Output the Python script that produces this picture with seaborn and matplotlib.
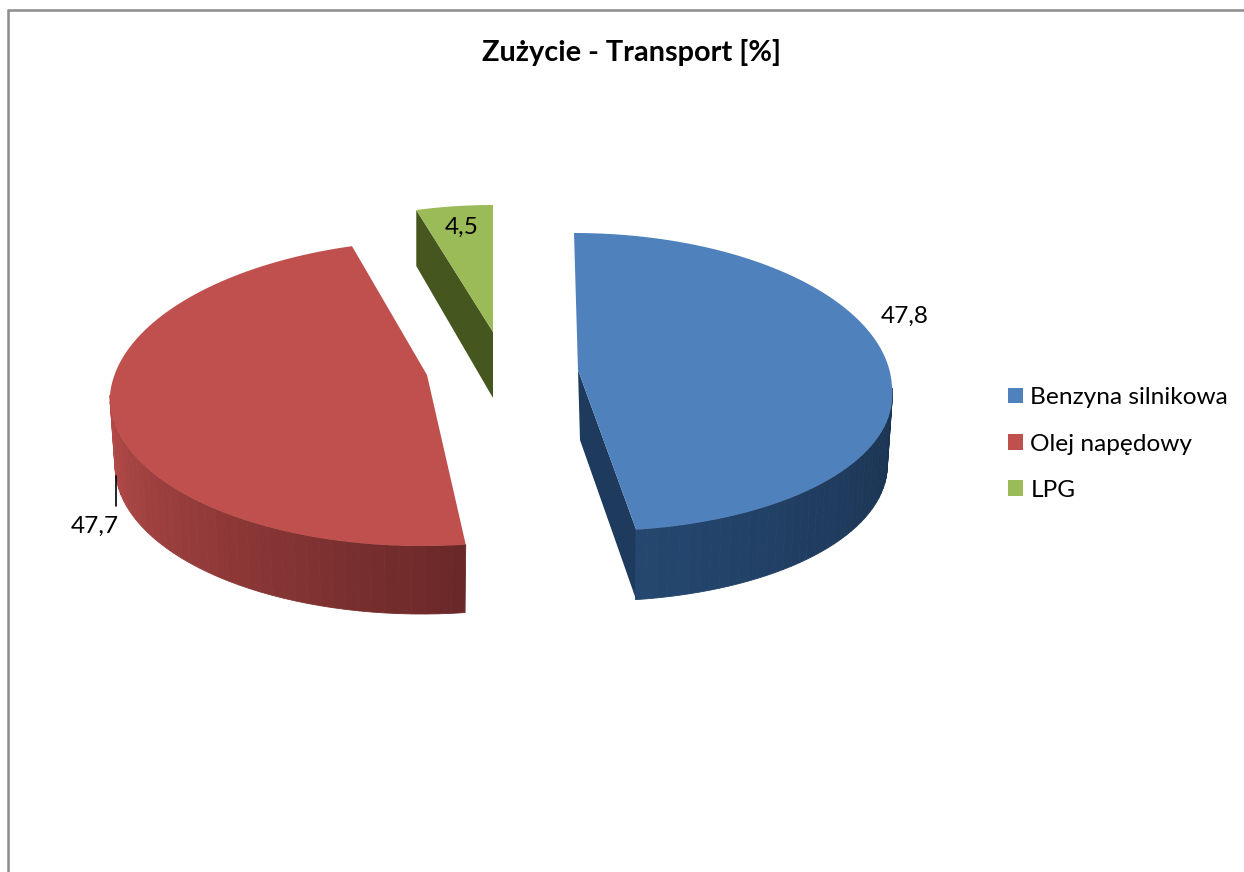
import matplotlib
matplotlib.use("Agg")
import matplotlib.pyplot as plt
from matplotlib.patches import Patch
import numpy as np
import seaborn as sns

sns.set_theme(style="white")
plt.rcParams['font.family'] = ['Lato', 'DejaVu Sans']

# data
categories = ['Benzyna silnikowa', 'Olej napędowy', 'LPG']
values = [47.8, 47.7, 4.5]
title = 'Zużycie - Transport [%]'

# styles
colors = ['#4F81BD', '#C0504D', '#9BBB59']
wall_colors = [['#1B3250', '#25476F'], ['#6A2828', '#B54B49'], ['#46561F', '#46561F']]
face_colors = ['#1E3A5C', '#6A2828', '#46561F']
# apex x, apex y, widest line y, rx, ry back, ry front, lean back, lean front
shapes = [(578, 370, 388, 314, 155, 143, -4, 15),
          (427, 375, 395, 317, 155, 151, 14, -5),
          (493, 332, 332, 275, 127, 127, 0, 0)]
depths = [70, 68, 66]
label_pos = [(905, 316), (95, 526), (462, 227)]


def rim(shape, t):
    cx, cy, yw, rx, ryb, ryf, lb, lf = shape
    c = np.cos(np.radians(t))
    s = np.sin(np.radians(t))
    x = cx + rx * s + lb * np.clip(c, 0, None) + lf * np.clip(-c, 0, None)
    y = yw - c * np.where(c > 0, ryb, ryf)
    return x, y


fig = plt.figure(figsize=(12.44, 8.72), dpi=100)
ax = fig.add_axes([0, 0, 1, 1])
ax.set_xlim(0, 1244)
ax.set_ylim(872, 0)
ax.axis('off')

# chart frame, open on the right and at the bottom
ax.plot([7.5, 7.5, 1244], [872, 10, 10], color='#8C8C8C', lw=1.8, solid_joinstyle='miter')

edges = np.cumsum([0] + values) / sum(values) * 360

for i in [2, 1, 0]:
    shape = shapes[i]
    d = depths[i]
    t0, t1 = edges[i], edges[i + 1]
    cx, cy = shape[0], shape[1]

    # cut faces that look towards the viewer
    if i == 0:
        xe, ye = rim(shape, t1)
        ax.fill([cx, xe, xe, cx + 2], [cy, ye, ye + d, cy + d], color=face_colors[i], lw=0)
    if i == 2:
        xe, ye = rim(shape, t0)
        ax.fill([xe, cx, cx, xe], [ye, cy, cy + d, ye + d - 10], color=face_colors[i], lw=0)

    # outer wall, only the front half is visible
    a, b = max(t0, 90), min(t1, 270)
    if b > a:
        ts = np.linspace(a, b, 41)
        pal = sns.blend_palette(wall_colors[i], len(ts) - 1)
        for k in range(len(ts) - 1):
            tt = np.linspace(ts[k], ts[k + 1], 4)
            x, y = rim(shape, tt)
            xb = x - 5 * np.sin(np.radians(tt))
            ax.fill(np.r_[x, xb[::-1]], np.r_[y, y[::-1] + d], color=pal[k], lw=0.6, ec=pal[k])

    # top of the slice
    tt = np.linspace(t0, t1, 200)
    x, y = rim(shape, tt)
    ax.fill(np.r_[cx, x], np.r_[cy, y], color=colors[i], lw=0)

# data labels
for v, (lx, ly) in zip(values, label_pos):
    ax.text(lx, ly, f'{v:.1f}'.replace('.', ','), ha='center', va='center',
            fontsize=17.6, color='black')
ax.plot([116, 116], [476, 506], color='black', lw=1.2)

ax.text(631, 52, title, ha='center', va='center', fontsize=20.8, fontweight='bold', color='black')

handles = [Patch(facecolor=c, edgecolor='none', label=n) for c, n in zip(colors, categories)]
ax.legend(handles=handles, loc='center left', bbox_to_anchor=(1008, 444),
          bbox_transform=ax.transData, frameon=False, fontsize=17.6, borderpad=0, borderaxespad=0,
          handlelength=0.62, handleheight=0.62, handletextpad=0.3, labelspacing=1.04,
          labelcolor='black')

fig.savefig('out.png', dpi=100)
